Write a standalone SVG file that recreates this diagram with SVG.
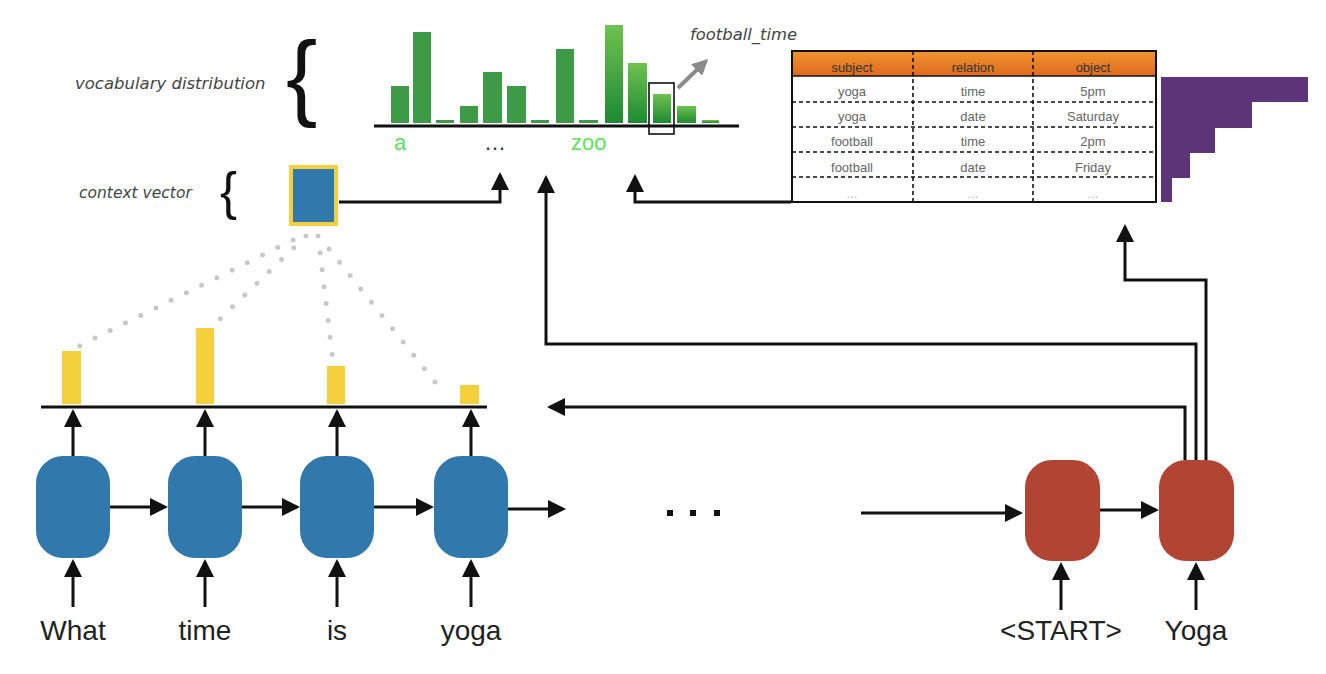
<svg xmlns="http://www.w3.org/2000/svg" width="1326" height="674" viewBox="0 0 1326 674">
<style>
.lbl{font-family:"DejaVu Sans",sans-serif;font-style:oblique;fill:#444}
.word{font-family:"Liberation Sans",Arial,sans-serif;font-size:28px;fill:#222;text-anchor:middle}
.th{font-family:"Liberation Sans",Arial,sans-serif;font-size:13px;fill:#333;text-anchor:middle}
.td{font-family:"Liberation Sans",Arial,sans-serif;font-size:13px;fill:#666;text-anchor:middle}
.tdd{font-family:"Liberation Sans",Arial,sans-serif;font-size:13px;fill:#bbb;text-anchor:middle}
.brace{font-family:"Liberation Sans",Arial,sans-serif;fill:#111}
.conn{fill:none;stroke:#111;stroke-width:3}
.enc{fill:#3179ad}
.dec{fill:#b24434}
.att{fill:#f4d03e}
.bar{fill:#3d9b48}
.barg{fill:url(#gg)}
.dash{stroke:#111;stroke-width:1.6;stroke-dasharray:4 3;fill:none}
.dots{fill:none;stroke:#c8c8c8;stroke-width:5;stroke-linecap:round;stroke-dasharray:0 17}
.axis{stroke:#111;stroke-width:3}
</style>
<defs>
<marker id="ah" viewBox="0 0 18 18" refX="15" refY="9" markerWidth="18" markerHeight="18" markerUnits="userSpaceOnUse" orient="auto">
<path d="M0,0 L18,9 L0,18 z" fill="#111"/>
</marker>
<marker id="ahg" viewBox="0 0 16 16" refX="13" refY="8" markerWidth="16" markerHeight="16" markerUnits="userSpaceOnUse" orient="auto">
<path d="M0,0 L16,8 L0,16 z" fill="#8a8a8a"/>
</marker>
<linearGradient id="gg" x1="0" y1="0" x2="0" y2="1">
<stop offset="0" stop-color="#6fc24f"/>
<stop offset="1" stop-color="#1d8a33"/>
</linearGradient>
<linearGradient id="og" x1="0" y1="0" x2="0" y2="1">
<stop offset="0" stop-color="#f1952f"/>
<stop offset="1" stop-color="#de6a1f"/>
</linearGradient>
</defs>

<g id="labels">
<text class="lbl" x="75" y="89" font-size="16.5">vocabulary distribution</text>
<text class="brace" x="286" y="108" font-size="94">{</text>
<text class="lbl" x="79" y="198" font-size="15.5">context vector</text>
<text class="brace" x="220" y="209" font-size="51">{</text>
</g>

<g id="vocab-distribution">
<rect class="bar" x="391" y="86" width="18" height="37"/>
<rect class="bar" x="413" y="32" width="18" height="91"/>
<rect class="bar" x="436" y="120" width="18" height="3"/>
<rect class="bar" x="460" y="106" width="18" height="17"/>
<rect class="bar" x="483" y="72" width="19" height="51"/>
<rect class="bar" x="507" y="86" width="19" height="37"/>
<rect class="bar" x="531" y="120" width="18" height="3"/>
<rect class="bar" x="556" y="49" width="18" height="74"/>
<rect class="bar" x="579" y="120" width="19" height="3"/>
<rect class="barg" x="605" y="25" width="18" height="98"/>
<rect class="barg" x="628" y="63" width="19" height="60"/>
<rect class="barg" x="653" y="94" width="18" height="29"/>
<rect class="barg" x="677" y="106" width="19" height="17"/>
<rect class="barg" x="702" y="120" width="17" height="3"/>
<line class="axis" x1="374" y1="126" x2="739" y2="126"/>
<rect x="649" y="83" width="25" height="51" fill="none" stroke="#111" stroke-width="1.6"/>
<line x1="678" y1="88" x2="706" y2="61" stroke="#8a8a8a" stroke-width="4" marker-end="url(#ahg)"/>
<text x="690" y="40" class="lbl" font-size="16.4">football_time</text>
<text x="394" y="150" font-family="Liberation Sans,Arial,sans-serif" font-size="22" fill="#5de05d">a</text>
<text x="484" y="150" font-family="Liberation Sans,Arial,sans-serif" font-size="22" fill="#333">…</text>
<text x="571" y="150" font-family="Liberation Sans,Arial,sans-serif" font-size="22" fill="#5de05d">zoo</text>
</g>

<g id="context-vector">
<rect x="289" y="165" width="49" height="61" fill="#f4d03e"/>
<rect x="293" y="169" width="41" height="53" fill="#3179ad"/>
</g>

<g id="attention">
<path class="dots" d="M293,240 L77,347"/>
<path class="dots" d="M306,236 L220,319"/>
<path class="dots" d="M318,236 L333,361"/>
<path class="dots" d="M329,249 L435,382"/>
<rect class="att" x="62" y="351" width="19" height="53"/>
<rect class="att" x="196" y="328" width="18" height="76"/>
<rect class="att" x="327" y="366" width="18" height="38"/>
<rect class="att" x="460" y="385" width="19" height="19"/>
<line class="axis" x1="41" y1="407" x2="487" y2="407"/>
</g>

<g id="kb-table">
<rect x="792" y="51" width="364" height="25" fill="url(#og)"/>
<rect x="792" y="51" width="364" height="151" fill="none" stroke="#111" stroke-width="2"/>
<line x1="792" y1="76" x2="1156" y2="76" stroke="#111" stroke-width="1.5"/>
<path class="dash" d="M792,102 H1156 M792,127 H1156 M792,152 H1156 M792,177 H1156 M913,51 V202 M1033,51 V202"/>
<text class="th" x="852" y="72">subject</text>
<text class="th" x="973" y="72">relation</text>
<text class="th" x="1093" y="72">object</text>
<text class="td" x="852" y="96">yoga</text>
<text class="td" x="973" y="96">time</text>
<text class="td" x="1093" y="96">5pm</text>
<text class="td" x="852" y="121">yoga</text>
<text class="td" x="973" y="121">date</text>
<text class="td" x="1093" y="121">Saturday</text>
<text class="td" x="852" y="146">football</text>
<text class="td" x="973" y="146">time</text>
<text class="td" x="1093" y="146">2pm</text>
<text class="td" x="852" y="172">football</text>
<text class="td" x="973" y="172">date</text>
<text class="td" x="1093" y="172">Friday</text>
<text class="tdd" x="852" y="198">...</text>
<text class="tdd" x="973" y="198">...</text>
<text class="tdd" x="1093" y="198">...</text>
</g>

<g id="kb-attention">
<polygon points="1161,77 1308,77 1308,102 1252,102 1252,128 1215,128 1215,153 1190,153 1190,178 1172,178 1172,202 1161,202" fill="#5e3479"/>
</g>

<g id="enc-what"><rect class="enc" x="36" y="456" width="74" height="102" rx="27"/><text class="word" x="73" y="640">What</text></g>
<g id="enc-time"><rect class="enc" x="168" y="456" width="74" height="102" rx="27"/><text class="word" x="205" y="640">time</text></g>
<g id="enc-is"><rect class="enc" x="300" y="456" width="74" height="102" rx="27"/><text class="word" x="337" y="640">is</text></g>
<g id="enc-yoga"><rect class="enc" x="434" y="456" width="74" height="102" rx="27"/><text class="word" x="471" y="640">yoga</text></g>
<g id="dec-start"><rect class="dec" x="1025" y="460" width="75" height="101" rx="27"/><text class="word" x="1061" y="640">&lt;START&gt;</text></g>
<g id="dec-yoga"><rect class="dec" x="1159" y="460" width="75" height="101" rx="27"/><text class="word" x="1196" y="640">Yoga</text></g>

<g id="ellipsis">
<rect x="667" y="510" width="6" height="6" fill="#111"/>
<rect x="690" y="510" width="6" height="6" fill="#111"/>
<rect x="714" y="510" width="6" height="6" fill="#111"/>
</g>

<g id="connectors">
<path class="conn" d="M73,456 V412" marker-end="url(#ah)"/>
<path class="conn" d="M205,456 V412" marker-end="url(#ah)"/>
<path class="conn" d="M337,456 V412" marker-end="url(#ah)"/>
<path class="conn" d="M471,456 V412" marker-end="url(#ah)"/>
<path class="conn" d="M73,607 V562" marker-end="url(#ah)"/>
<path class="conn" d="M205,607 V562" marker-end="url(#ah)"/>
<path class="conn" d="M337,607 V562" marker-end="url(#ah)"/>
<path class="conn" d="M471,607 V562" marker-end="url(#ah)"/>
<path class="conn" d="M110,507 H165" marker-end="url(#ah)"/>
<path class="conn" d="M242,507 H297" marker-end="url(#ah)"/>
<path class="conn" d="M374,507 H431" marker-end="url(#ah)"/>
<path class="conn" d="M508,509 H563" marker-end="url(#ah)"/>
<path class="conn" d="M861,513 H1020" marker-end="url(#ah)"/>
<path class="conn" d="M1100,510 H1156" marker-end="url(#ah)"/>
<path class="conn" d="M1061,610 V565" marker-end="url(#ah)"/>
<path class="conn" d="M1196,610 V565" marker-end="url(#ah)"/>
<path class="conn" d="M1185,460 V407 H550" marker-end="url(#ah)"/>
<path class="conn" d="M1196,460 V344 H546 V178" marker-end="url(#ah)"/>
<path class="conn" d="M1206,460 V280 H1125 V227" marker-end="url(#ah)"/>
<path class="conn" d="M339,202 H500 V175" marker-end="url(#ah)"/>
<path class="conn" d="M791,202 H635 V177" marker-end="url(#ah)"/>
</g>
</svg>
